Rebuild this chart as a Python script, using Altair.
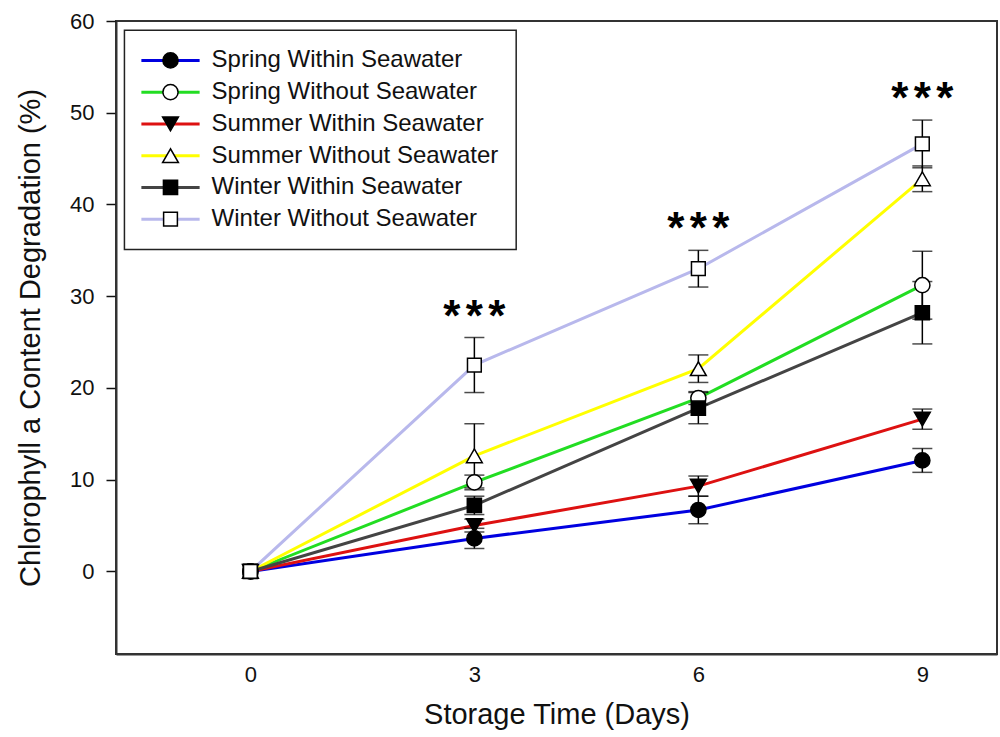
import altair as alt
import pandas as pd

# Storage time (days) and treatment groups
days = [0, 3, 6, 9]
series_names = [
    "Spring Within Seawater",
    "Spring Without Seawater",
    "Summer Within Seawater",
    "Summer Without Seawater",
    "Winter Within Seawater",
    "Winter Without Seawater",
]

# Mean chlorophyll a degradation (%) and error per group
spring_within = [0.0, 3.6, 6.7, 12.1]
spring_within_err = [0.0, 1.1, 1.5, 1.3]
spring_without = [0.0, 9.7, 18.9, 31.2]
spring_without_err = [0.0, 0.8, 0.7, 3.7]
summer_within = [0.0, 5.0, 9.3, 16.6]
summer_within_err = [0.0, 0.7, 1.1, 1.1]
summer_without = [0.0, 12.6, 22.1, 42.8]
summer_without_err = [0.0, 3.5, 1.5, 1.4]
winter_within = [0.0, 7.2, 17.8, 28.2]
winter_within_err = [0.0, 1.0, 1.7, 3.4]
winter_without = [0.0, 22.5, 33.0, 46.6]
winter_without_err = [0.0, 3.0, 2.0, 2.6]

# Days flagged as significant (three asterisks each)
significance_days = [3, 6, 9]
significance_marks = 3

# Styling per group
line_colors = ["#0000E0", "#22DD22", "#DD1111", "#FFFF00", "#444444", "#B8B8EC"]
marker_shapes = ["circle", "circle", "triangle-down", "triangle-up", "square", "square"]
marker_fills = ["black", "white", "black", "white", "black", "white"]
marker_sizes = [230, 230, 250, 250, 200, 190]

means = [spring_within, spring_without, summer_within,
         summer_without, winter_within, winter_without]
errs = [spring_within_err, spring_without_err, summer_within_err,
        summer_without_err, winter_within_err, winter_without_err]

rows = []
for i, name in enumerate(series_names):
    for d, m, e in zip(days, means[i], errs[i]):
        rows.append({
            "series": name, "order": i, "day": d, "value": m, "err": e,
            "lo": m - e, "hi": m + e,
            "lc": line_colors[i], "shape": marker_shapes[i],
            "fill": marker_fills[i], "msize": marker_sizes[i],
        })
df = pd.DataFrame(rows)
df_err = df[df["err"] > 0]

tops = df.groupby("day")["hi"].max().reset_index()
df_sig = tops[tops["day"].isin(significance_days)].copy()

# Legend layout (data units of the shared scales)
LEG_Y0, LEG_DY = 55.7, 3.46
LEG_LINE_X0, LEG_LINE_X1, LEG_MARK_X, LEG_TEXT_X = -1.46, -0.68, -1.07, -0.52
leg = pd.DataFrame({
    "series": series_names,
    "ly": [LEG_Y0 - i * LEG_DY for i in range(len(series_names))],
    "lc": line_colors, "shape": marker_shapes,
    "fill": marker_fills, "msize": marker_sizes,
})
leg["x0"] = LEG_LINE_X0
leg["x1"] = LEG_LINE_X1
leg["xm"] = LEG_MARK_X
leg["xt"] = LEG_TEXT_X
leg_box = pd.DataFrame({"bx0": [-1.687], "bx1": [3.56], "by0": [35.1], "by1": [59.0]})

x_scale = alt.Scale(domain=[-1.8, 10], nice=False, zero=False)
y_scale = alt.Scale(domain=[-9, 60], nice=False, zero=False)

x_axis = alt.Axis(
    values=days, format="d", ticks=False, grid=False, labelFontSize=22, labelPadding=10,
    labelColor="#111", labelFlush=False, title="Storage Time (Days)",
    titleFontSize=29, titleFontWeight="normal", titleColor="#111", titlePadding=15,
    domainColor="#333", domainWidth=2,
)
y_axis = alt.Axis(
    values=[0, 10, 20, 30, 40, 50, 60], format="d", tickSize=10, tickWidth=1.5,
    tickColor="#111", grid=False, labelFontSize=22, labelPadding=12, labelColor="#111",
    labelFlush=False, title="Chlorophyll a Content Degradation (%)", titleFontSize=29,
    titleFontWeight="normal", titleColor="#111", titlePadding=24,
    domainColor="#333", domainWidth=2,
)

base = alt.Chart(df)

lines = base.mark_line(strokeWidth=3).encode(
    x=alt.X("day:Q", scale=x_scale, axis=x_axis),
    y=alt.Y("value:Q", scale=y_scale, axis=y_axis),
    color=alt.Color("lc:N", scale=None),
    detail="series:N",
    order="day:Q",
)

err_rule = alt.Chart(df_err).mark_rule(color="black", strokeWidth=1.5).encode(
    x="day:Q", y="lo:Q", y2="hi:Q"
)
err_lo = alt.Chart(df_err).mark_tick(
    color="black", orient="horizontal", size=20, thickness=1.5
).encode(x="day:Q", y="lo:Q")
err_hi = alt.Chart(df_err).mark_tick(
    color="black", orient="horizontal", size=20, thickness=1.5
).encode(x="day:Q", y="hi:Q")

points = base.mark_point(stroke="black", strokeWidth=1.5, opacity=1).encode(
    x="day:Q", y="value:Q",
    shape=alt.Shape("shape:N", scale=None),
    fill=alt.Fill("fill:N", scale=None),
    size=alt.Size("msize:Q", scale=None),
)

# Three asterisks above the highest error bar of each flagged day
STAR_GAP = 22.5
star_layers = []
for k in range(significance_marks):
    offset = (k - (significance_marks - 1) / 2) * STAR_GAP
    star_layers.append(
        alt.Chart(df_sig).mark_text(
            text="*", fontSize=44, fontWeight="bold", color="black",
            baseline="alphabetic", dx=offset, dy=-7,
        ).encode(x="day:Q", y="hi:Q")
    )

box = alt.Chart(leg_box).mark_rect(
    fill="white", stroke="#222", strokeWidth=1.5
).encode(x="bx0:Q", x2="bx1:Q", y="by0:Q", y2="by1:Q")

leg_lines = alt.Chart(leg).mark_rule(strokeWidth=3).encode(
    x="x0:Q", x2="x1:Q", y="ly:Q", color=alt.Color("lc:N", scale=None)
)
leg_marks = alt.Chart(leg).mark_point(stroke="black", strokeWidth=1.5, opacity=1).encode(
    x="xm:Q", y="ly:Q",
    shape=alt.Shape("shape:N", scale=None),
    fill=alt.Fill("fill:N", scale=None),
    size=alt.Size("msize:Q", scale=None),
)
leg_text = alt.Chart(leg).mark_text(
    align="left", baseline="middle", fontSize=24, color="#111"
).encode(x="xt:Q", y="ly:Q", text="series:N")

chart = alt.layer(
    lines, err_rule, err_lo, err_hi, points, *star_layers,
    box, leg_lines, leg_marks, leg_text,
).properties(
    width=881, height=633, autosize="none",
    padding={"left": 116, "top": 21, "right": 3, "bottom": 83},
).configure(
    font="Liberation Sans",
).configure_view(
    stroke="#333", strokeWidth=2,
)

chart.save("out.html", embed_options={"renderer": "svg", "actions": False})
